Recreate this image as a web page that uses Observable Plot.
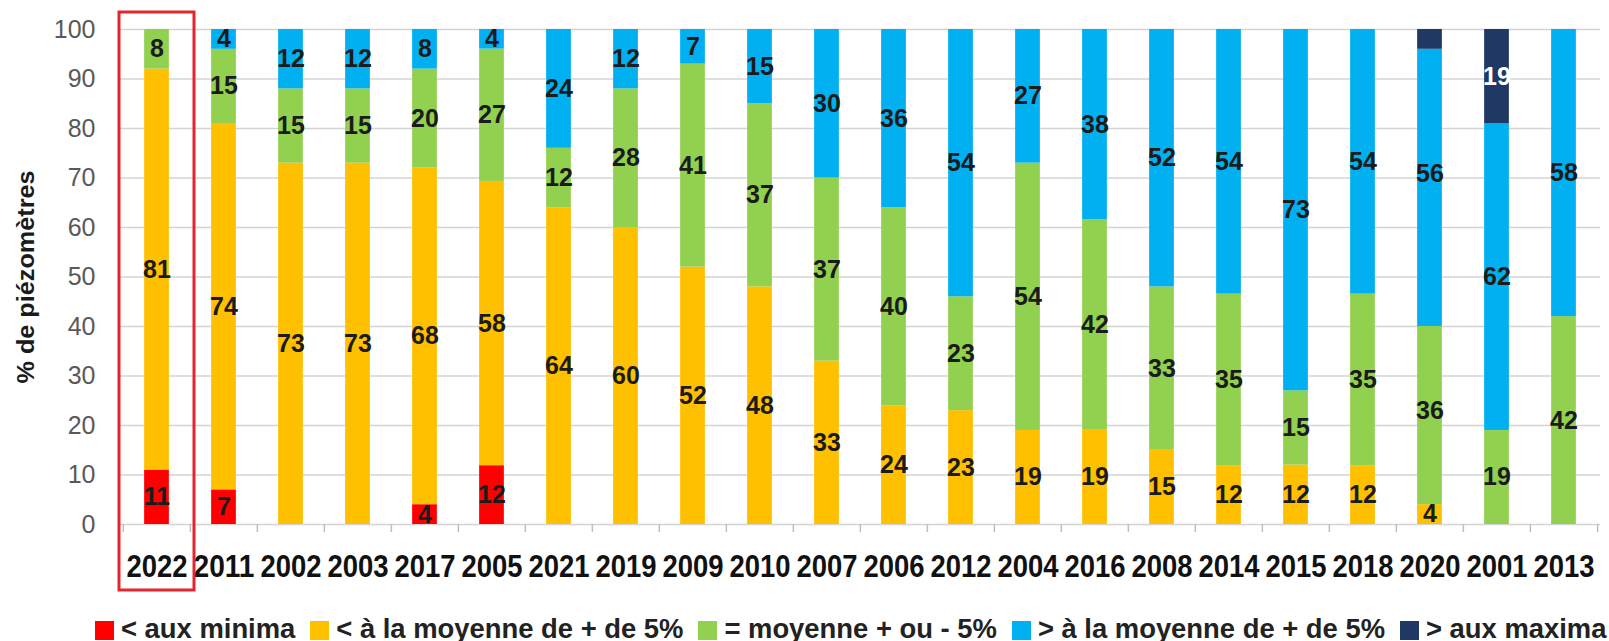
<!DOCTYPE html>
<html>
<head>
<meta charset="utf-8">
<script src="https://cdn.jsdelivr.net/npm/d3@7"></script>
<script src="https://cdn.jsdelivr.net/npm/@observablehq/plot@0.6"></script>
<style>
  html, body { margin: 0; padding: 0; background: #fff; }
  body { width: 1609px; height: 641px; overflow: hidden; font-family: "Liberation Sans", Arial, sans-serif; }
  #legend { display: flex; align-items: center; height: 41px; padding-left: 95px; box-sizing: border-box; padding-top: 16px;
            font-size: 27.4px; font-weight: bold; color: #222; white-space: nowrap; }
  #legend .item { display: flex; align-items: center; margin-right: 15px; }
  #legend .sw { width: 19px; height: 19px; margin-right: 7px; margin-top: 3px; }
</style>
</head>
<body>
<div id="chart"></div>
<div id="legend"></div>
<script>
// ---- data ----
const years = ["2022","2011","2002","2003","2017","2005","2021","2019","2009","2010","2007","2006","2012","2004","2016","2008","2014","2015","2018","2020","2001","2013"];
const seriesNames = ["< aux minima", "< à la moyenne de + de 5%", "= moyenne + ou - 5%", "> à la moyenne de + de 5%", "> aux maxima"];
const seriesColors = ["#FF0000", "#FFC000", "#92D050", "#00B0F0", "#203864"];
const minima   = [11, 7, 0, 0, 4, 12, 0, 0, 0, 0, 0, 0, 0, 0, 0, 0, 0, 0, 0, 0, 0, 0];
const belowAvg = [81, 74, 73, 73, 68, 58, 64, 60, 52, 48, 33, 24, 23, 19, 19, 15, 12, 12, 12, 4, 0, 0];
const nearAvg  = [8, 15, 15, 15, 20, 27, 12, 28, 41, 37, 37, 40, 23, 54, 42, 33, 35, 15, 35, 36, 19, 42];
const aboveAvg = [0, 4, 12, 12, 8, 4, 24, 12, 7, 15, 30, 36, 54, 27, 38, 52, 54, 73, 54, 56, 62, 58];
const maxima   = [0, 0, 0, 0, 0, 0, 0, 0, 0, 0, 0, 0, 0, 0, 0, 0, 0, 0, 0, 4, 19, 0];
const yTicks = [0, 10, 20, 30, 40, 50, 60, 70, 80, 90, 100];
const highlighted = ["2022"];
const hiddenLabels = [["2020", "> aux maxima"]];
const yTitle = "% de piézomètres";

// ---- build table ----
const seriesValues = [minima, belowAvg, nearAvg, aboveAvg, maxima];
const rows = [];
seriesNames.forEach((s, si) => {
  years.forEach((y, yi) => rows.push({year: y, series: s, value: seriesValues[si][yi]}));
});
const labelRows = rows.filter(d => d.value > 0 && !hiddenLabels.some(h => h[0] === d.year && h[1] === d.series));

const W = 1609, H = 600, mL = 120, mR = 9, mT = 29, mB = 76;
const step = (W - mL - mR) / years.length;
const barW = 25;
const inset = (step - barW) / 2;

const chart = Plot.plot({
  width: W, height: H,
  marginLeft: mL, marginRight: mR, marginTop: mT, marginBottom: mB,
  style: {fontFamily: '"Liberation Sans", Arial, sans-serif', background: "#fff"},
  x: {domain: years, padding: 0, label: null},
  y: {domain: [0, 1], label: null},
  color: {domain: seriesNames, range: seriesColors},
  marks: [
    Plot.gridY(yTicks.map(t => t / 100), {stroke: "#d4d4d4", strokeOpacity: 1, strokeWidth: 1.5}),
    Plot.axisY(yTicks.map(t => t / 100), {tickSize: 0, tickPadding: 25, fontSize: 25, fill: "#595959",
      tickFormat: d => Math.round(d * 100), label: null}),
    Plot.barY(rows, Plot.stackY({offset: "normalize", order: seriesNames, x: "year", y: "value", fill: "series",
      insetLeft: inset, insetRight: inset})),
    Plot.text(labelRows, Plot.stackY({offset: "normalize", order: seriesNames, x: "year", y: "value", z: "series",
      text: d => String(d.value), fontSize: 25, fontWeight: "bold",
      fill: d => d.series === "> aux maxima" ? "#ffffff" : "#1b1b1b"})),
    Plot.ruleX(years, {x: d => d, dx: -step / 2, y1: 0, y2: 0, insetBottom: -8, stroke: "#bfbfbf", strokeWidth: 1.5}),
    Plot.ruleX(years.slice(-1), {x: d => d, dx: step / 2, y1: 0, y2: 0, insetBottom: -8, stroke: "#bfbfbf", strokeWidth: 1.5}),
    Plot.axisX({tickSize: 0, tickPadding: 30, fontSize: 31, fontWeight: "bold", fill: "#111", label: null}),
    Plot.text([yTitle], {frameAnchor: "left", dx: -94, rotate: -90, text: d => d, fontSize: 24, fontWeight: "bold",
      fill: "#1b1b1b", textAnchor: "middle", lineAnchor: "middle", className: "ytitle"}),
    Plot.barY(highlighted, {x: d => d, y1: 0, y2: 1, fill: "none", stroke: "#E3262E", strokeWidth: 3,
      insetLeft: -4, insetRight: -4, insetTop: -17, insetBottom: -66})
  ]
});
document.getElementById("chart").appendChild(chart);

// condense text like the original
chart.querySelectorAll('[aria-label="x-axis tick label"] text').forEach(t => {
  t.setAttribute("textLength", 61);
  t.setAttribute("lengthAdjust", "spacingAndGlyphs");
});
chart.querySelectorAll('.ytitle text').forEach(t => {
  t.setAttribute("textLength", 213);
  t.setAttribute("lengthAdjust", "spacingAndGlyphs");
});

// legend
const legend = document.getElementById("legend");
seriesNames.forEach((s, i) => {
  const item = document.createElement("div");
  item.className = "item";
  const sw = document.createElement("div");
  sw.className = "sw";
  sw.style.background = seriesColors[i];
  const lab = document.createElement("span");
  lab.textContent = s;
  item.appendChild(sw);
  item.appendChild(lab);
  legend.appendChild(item);
});
</script>
</body>
</html>
